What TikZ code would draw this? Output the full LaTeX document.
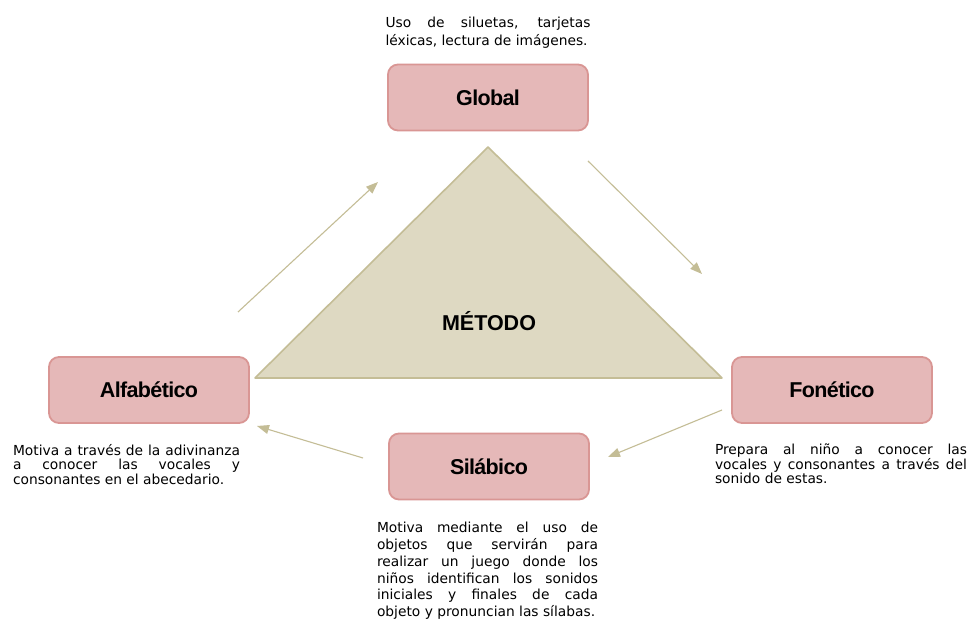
\documentclass[tikz,border=0pt]{standalone}
\usepackage{fontspec}
\setmainfont{DejaVu Sans}
\newfontfamily\labelfont[LetterSpace=-3]{Liberation Sans}
\newfontfamily\titlefont{Liberation Sans}
\usetikzlibrary{arrows.meta}
\setlength{\parindent}{0pt}
\hyphenpenalty=10000

\begin{document}
\begin{tikzpicture}[x=1pt,y=1pt,
  methodBox/.style={draw=boxDraw,line width=1.8pt,fill=boxFill,rounded corners=10pt,
    minimum width=200pt,minimum height=66pt,inner sep=0pt,
    font=\labelfont\bfseries\fontsize{21.5}{24}\selectfont},
  noteText/.style={align=justify,inner sep=0pt,anchor=north,
    font=\fontsize{13.8}{14.4}\selectfont},
  cycleArrow/.style={draw=arrowColor,line width=1.1pt,-{Triangle[length=12pt,width=9pt]}}]
\definecolor[named]{boxFill}{rgb}{0.90,0.72,0.72}
\definecolor[named]{boxDraw}{rgb}{0.85,0.59,0.58}
\definecolor[named]{triFill}{rgb}{0.87,0.85,0.76}
\definecolor[named]{triDraw}{rgb}{0.77,0.74,0.59}
\definecolor[named]{arrowColor}{rgb}{0.77,0.74,0.59}
\path[use as bounding box,fill=white] (0,0) rectangle (970,621);

% triangle
\coordinate (apex) at (488,474);
\coordinate (baseW) at (255,243);
\coordinate (baseE) at (722,243);
\path[draw=triDraw,line width=1.6pt,line join=round,fill=triFill] (apex) -- (baseE) -- (baseW) -- cycle;
\node[font=\titlefont\bfseries\fontsize{21.5}{24}\selectfont,inner sep=0pt] (metodo) at (489,300) {MÉTODO};

% boxes
\node[methodBox] (glob) at (488,523.5) {Global};
\node[methodBox] (alfa) at (149,231) {Alfabético};
\node[methodBox] (fone) at (832,231) {Fonético};
\node[methodBox] (sila) at (489,154.5) {Silábico};

% descriptions
\node[noteText,text width=205pt,font=\fontsize{13.8}{18}\selectfont] (globtxt) at (488,604) {Uso de siluetas, tarjetas\linebreak léxicas, lectura de imágenes.};
\node[noteText,text width=227pt] (alfatxt) at (126.5,177) {Motiva a través de la adivinanza\linebreak a conocer las vocales y\linebreak consonantes en el abecedario.};
\node[noteText,text width=252pt] (fonetxt) at (841,177) {Prepara al niño a conocer las\linebreak vocales y consonantes a través del\linebreak sonido de estas.};
\node[noteText,text width=221pt,font=\fontsize{13.8}{16.8}\selectfont] (silatxt) at (487.5,99) {Motiva mediante el uso de\linebreak objetos que servirán para\linebreak realizar un juego donde los\linebreak niños identifican los sonidos\linebreak iniciales y finales de cada\linebreak objeto y pronuncian las sílabas.};

% arrows
\coordinate (a1s) at (238,309);
\coordinate (a1e) at (378,439);
\coordinate (a2s) at (588,460);
\coordinate (a2e) at (702,347);
\coordinate (a3s) at (722,211);
\coordinate (a3e) at (608,164);
\coordinate (a4s) at (363,163);
\coordinate (a4e) at (257,195);
\path[cycleArrow] (a1s) -- (a1e);
\path[cycleArrow] (a2s) -- (a2e);
\path[cycleArrow] (a3s) -- (a3e);
\path[cycleArrow] (a4s) -- (a4e);
\end{tikzpicture}
\end{document}
